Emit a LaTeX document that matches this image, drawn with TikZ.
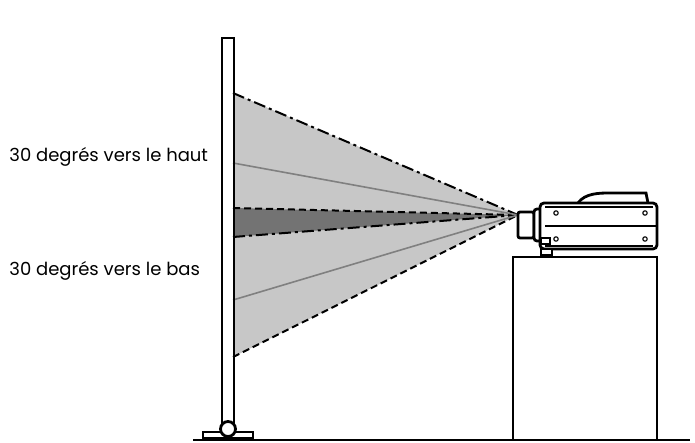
\documentclass[tikz,border=0pt]{standalone}
\usepackage{fontspec}
\setmainfont{Poppins}
\begin{document}
\begin{tikzpicture}[x=1pt,y=-1pt,line width=2.8pt]
\tikzstyle{every node}+=[inner sep=0pt]
\tikzstyle{ray}=[line width=2pt]
\useasboundingbox (0,0) rectangle (695,443);
% beams
\coordinate (apex) at (518,215);
\coordinate (up) at (233,93);
\coordinate (dn) at (233,357);
\coordinate (d1) at (233,208);
\coordinate (d2) at (233,237);
\coordinate (g1) at (233,163);
\coordinate (g2) at (233,300);
\fill [black!22] (apex) -- (up) -- (dn) -- cycle;
\fill [black!55] (apex) -- (d1) -- (d2) -- cycle;
\draw [ray,dash pattern=on 12pt off 4pt on 3pt off 4pt] (up) -- (apex);
\draw [ray,dash pattern=on 12pt off 4pt on 3pt off 4pt] (d2) -- (apex);
\draw [ray,dash pattern=on 7pt off 4pt] (d1) -- (apex);
\draw [ray,dash pattern=on 7pt off 4pt] (dn) -- (apex);
\draw [line width=1.6pt,black!50] (g1) -- (apex);
\draw [line width=1.6pt,black!50] (g2) -- (apex);
% screen
\draw (222,430) -- (222,38) -- (234,38) -- (234,430);
\draw [fill=white] (203,438) rectangle (253,432);
\draw [fill=white] (228,429) circle (7.5);
\draw (193,440) -- (690,440);
% stand
\draw (513,440) -- (513,257) -- (657,257) -- (657,440);
% projector
\draw [fill=white,rounded corners=2pt] (518,212) rectangle (534,238);
\draw [fill=white,rounded corners=3pt] (534,209) rectangle (542,241);
\draw [fill=white] (578,203) .. controls (585,193) and (600,193) .. (610,193) -- (646,193) -- (648,203);
\draw [fill=white,rounded corners=4pt] (540,203) rectangle (657,249);
\draw [line width=1.8pt] (545,207) -- (653,207);
\draw [line width=1.8pt] (545,226) -- (657,226);
\draw [line width=1.8pt] (545,246) -- (653,246);
\draw [fill=white] (541,249) rectangle (552,255);
\draw [fill=white,line width=1.4pt] (541,238) rectangle (550,244);
\foreach \sx/\sy in {556/213,645/213,556/239,645/239}
  \draw [line width=1.1pt] (\sx,\sy) circle (2.2);
% labels
\node [anchor=west,font=\fontsize{18}{20}\selectfont] (haut) at (8,157) {30 degrés vers le haut};
\node [anchor=west,font=\fontsize{18}{20}\selectfont] (bas) at (8,271) {30 degrés vers le bas};
\end{tikzpicture}
\end{document}
